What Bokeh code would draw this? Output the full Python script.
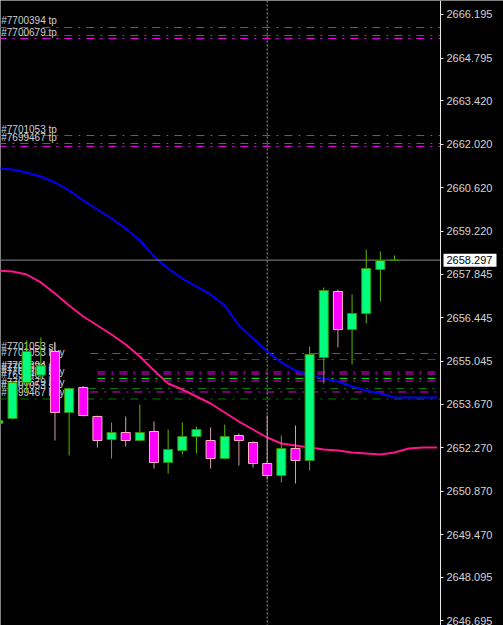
from bokeh.plotting import figure
from bokeh.models import (ColumnDataSource, Range1d, LinearAxis, FixedTicker,
                          PrintfTickFormatter, Span)
from bokeh.embed import file_html
from bokeh.resources import INLINE
from bokeh.core.properties import value

# ---- candles (bar index, OHLC) ----
bar_index = list(range(-1, 28))
open_ = [2653.044, 2653.204, 2654.362, 2654.600, 2655.359, 2653.398, 2654.201, 2653.269,
         2652.529, 2652.754, 2652.497, 2652.787, 2651.790, 2652.176, 2652.626, 2652.497,
         2651.918, 2652.658, 2652.433, 2651.758, 2651.372, 2652.240, 2651.854, 2655.166,
         2657.288, 2656.066, 2656.581, 2657.996, 2658.285]
high = [2653.170, 2654.400, 2655.710, 2655.810, 2655.648, 2654.200, 2654.250, 2653.300,
        2653.076, 2653.269, 2653.655, 2653.108, 2652.851, 2653.076, 2652.947, 2652.915,
        2653.012, 2652.722, 2652.465, 2653.301, 2652.658, 2652.980, 2655.520, 2657.417,
        2657.352, 2657.192, 2658.639, 2658.574, 2658.446]
low = [2653.000, 2653.170, 2654.040, 2654.460, 2652.497, 2652.015, 2653.270, 2652.272,
       2651.918, 2652.304, 2652.480, 2651.597, 2651.436, 2652.047, 2652.079, 2651.597,
       2651.886, 2651.693, 2651.629, 2651.240, 2651.147, 2651.115, 2651.533, 2654.330,
       2655.488, 2654.941, 2656.259, 2656.967, 2658.285]
close = [2653.140, 2654.362, 2655.359, 2654.900, 2653.398, 2654.169, 2653.301, 2652.497,
         2652.754, 2652.497, 2652.754, 2651.790, 2652.208, 2652.626, 2652.851, 2651.918,
         2652.626, 2652.497, 2651.758, 2651.372, 2652.240, 2651.854, 2655.262, 2657.320,
         2656.066, 2656.581, 2658.028, 2658.285, 2658.297]

# ---- moving averages (shifted forward) ----
ma_index = list(range(-1, 31))
ma_blue = [2661.243, 2661.211, 2661.115, 2660.986, 2660.793, 2660.536, 2660.214, 2659.925,
           2659.635, 2659.314, 2658.928, 2658.414, 2658.028, 2657.706, 2657.449, 2657.192,
           2656.838, 2656.195, 2655.777, 2655.359, 2655.005, 2654.748, 2654.587, 2654.491,
           2654.394, 2654.234, 2654.105, 2654.008, 2653.880, 2653.880, 2653.880, 2653.880]
ma_pink = [2657.963, 2657.931, 2657.835, 2657.578, 2657.224, 2656.838, 2656.484, 2656.195,
           2655.906, 2655.584, 2655.198, 2654.748, 2654.330, 2654.137, 2653.912, 2653.687,
           2653.398, 2653.108, 2652.851, 2652.594, 2652.401, 2652.336, 2652.272, 2652.208,
           2652.176, 2652.111, 2652.079, 2652.047, 2652.111, 2652.240, 2652.272, 2652.272]

# ---- order levels ----
level_price = [2665.777, 2665.520, 2665.423, 2662.304, 2662.047, 2661.951,
               2655.295, 2655.102, 2654.700, 2654.636, 2654.491, 2654.410,
               2654.169, 2654.057, 2653.832]
level_kind = ["tp", "tp", "tp", "tp", "tp", "tp",
              "sl", "open", "sl", "sl", "open2", "sl", "open", "sl", "open"]
level_from = [-1, -1, -1, -1, -1, -1, 5.5, 6.0, 6.0, 6.0, 6.0, 6.0, 3.8, 5.5, -1]

label_text = ["#7700394 tp", "#7700679 tp", "#7701053 tp", "#7699467 tp",
              "#7701053 sl", "#7701053 buy", "#7700394 sl", "#7700679 sl",
              "#7700394 buy", "#7699467 sl", "#7700679 buy", "#7701053 sl",
              "#7699467 buy"]
label_price = [2665.777, 2665.423, 2662.304, 2662.047,
               2655.295, 2655.102, 2654.700, 2654.636,
               2654.491, 2654.410, 2654.169, 2654.057, 2653.832]

price_ticks = [2646.695, 2648.095, 2649.470, 2650.870, 2652.270, 2653.670, 2655.045,
               2656.445, 2657.845, 2659.220, 2660.620, 2662.020, 2663.420, 2664.795,
               2666.195]
last_price = 2658.297
marker_bar = 18

kind_color = {"tp": "#e600e6", "sl": "#e600e6", "open": "#007a00", "open2": "#00e000"}

# ---- layout geometry (pixels) ----
W, H = 503, 625
X0 = -0.85          # bar value at left edge
PX = 14.148         # pixels per bar
AXIS_PX = 440       # where the price scale sits
x_end = X0 + W / PX
axis_x = X0 + AXIS_PX / PX

p = figure(width=W, height=H, output_backend="svg", toolbar_location=None,
           x_range=Range1d(X0, x_end), y_range=Range1d(2646.549, 2666.645),
           x_axis_location=None, y_axis_location=None,
           background_fill_color="black", border_fill_color="black",
           min_border_left=0, min_border_right=0, min_border_top=0, min_border_bottom=0)
p.outline_line_color = None
p.grid.visible = False

ax = LinearAxis(ticker=FixedTicker(ticks=price_ticks),
                formatter=PrintfTickFormatter(format="%.3f"),
                fixed_location=axis_x)
ax.axis_line_color = "#e8e8e8"
ax.major_tick_line_color = "#e8e8e8"
ax.major_tick_out = 3
ax.major_tick_in = 0
ax.minor_tick_line_color = None
ax.major_label_text_color = "#d4d4d4"
ax.major_label_text_font = "Liberation Sans"
ax.major_label_text_font_size = "11px"
ax.major_label_standoff = 3
p.add_layout(ax, "right")

# vertical marker
p.add_layout(Span(location=marker_bar, dimension="height", line_color="#9a9a9a",
                  line_width=1, line_dash="2 2", level="underlay"))

# level lines
lv = ColumnDataSource(dict(x0=level_from, x1=[axis_x] * len(level_price),
                           y=level_price, color=[kind_color[k] for k in level_kind]))
p.segment(x0="x0", x1="x1", y0="y", y1="y", color="color", line_width=1,
          line_dash="8 6 2 6", source=lv)

# moving averages
p.line(ma_index, ma_blue, line_color="#0000ff", line_width=2)
p.line(ma_index, ma_pink, line_color="#ff148c", line_width=2)

# labels
p.text(x=[X0 + 0.05] * len(label_text), y=label_price, text=label_text,
       text_font=value("Liberation Sans"), text_font_size="10px",
       text_color="#d0d0d0", text_baseline="bottom", text_align="left", y_offset=-1)

# price line
p.segment(x0=[X0], x1=[axis_x], y0=[last_price], y1=[last_price],
          line_color="#8a8a8a", line_width=1)

# candles
bull = [c >= o for o, c in zip(open_, close)]
src = ColumnDataSource(dict(
    x=bar_index, o=open_, h=high, l=low, c=close,
    top=[max(o, c) for o, c in zip(open_, close)],
    bot=[min(o, c) for o, c in zip(open_, close)],
    wick=["#5cb800" if b else "#d8a0ac" for b in bull],
    fill=["#00ff7f" if b else "#ff00ff" for b in bull],
    edge=["#3a8f00" if b else "#ffb0c8" for b in bull],
))
p.segment(x0="x", x1="x", y0="h", y1="l", line_color="wick", line_width=1, source=src)
p.vbar(x="x", width=0.64, top="top", bottom="bot", fill_color="fill",
       line_color="edge", line_width=1, source=src)

# current price tag on the scale
tag_w = 53
p.rect(x=[axis_x + (3 + tag_w / 2) / PX], y=[last_price], width=tag_w, height=13,
       width_units="screen", height_units="screen", fill_color="white", line_color=None)
p.text(x=[axis_x], y=[last_price], text=[f"{last_price:.3f}"], x_offset=6,
       text_font=value("Liberation Sans"), text_font_size="11px", text_color="black",
       text_baseline="middle", text_align="left")

html = file_html(p, INLINE)
html = html.replace("<body>", '<body style="margin:0;background:#000;overflow:hidden">', 1)
open("out.html", "w").write(html)
